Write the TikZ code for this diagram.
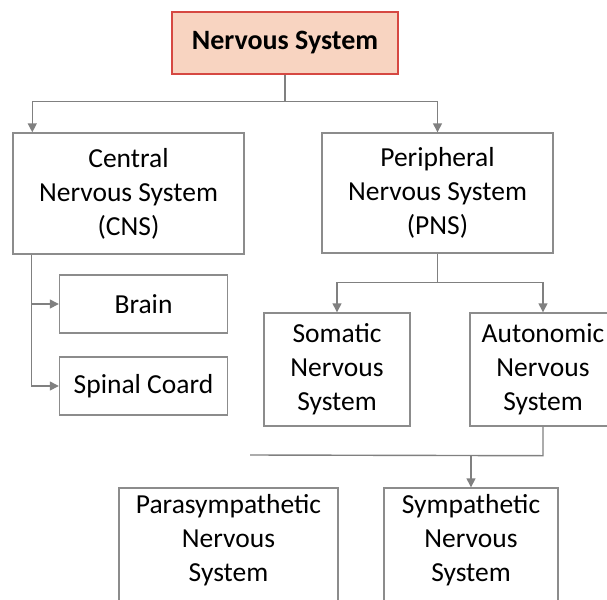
\documentclass[tikz,border=0pt]{standalone}
\usepackage{fontspec}
\setmainfont{Carlito}
\usetikzlibrary{arrows.meta,calc}
\definecolor{boxgray}{RGB}{140,140,140}
\definecolor{linegray}{RGB}{128,128,128}
\definecolor{salmon}{RGB}{248,212,193}
\definecolor{redborder}{RGB}{214,72,66}
\tikzset{
  txt/.style={font=\fontsize{27.5}{34}\selectfont, align=center},
  box/.style={draw=boxgray, line width=1.4pt, fill=white, inner sep=0pt, txt},
  titlebox/.style={draw=redborder, line width=1.4pt, fill=salmon, inner sep=0pt, align=center,
    font=\fontsize{28}{30}\selectfont\bfseries},
  conn/.style={draw=linegray, line width=1.4pt},
  arr/.style={conn, -{Triangle[length=9pt,width=9pt]}}
}
\begin{document}
\begin{tikzpicture}[x=1pt,y=-1pt]
\useasboundingbox (0,0) rectangle (607,599);
\clip (0,0) rectangle (607,599);
\fill[white] (0,0) rectangle (607,599);
% nodes
\node[titlebox, minimum width=226pt, minimum height=62pt] (ns) at (285,43) {Nervous System};
\node[box, minimum width=231pt, minimum height=121pt] (cns) at (128.5,193.5) {Central\\Nervous System\\(CNS)};
\node[box, minimum width=231pt, minimum height=120pt] (pns) at (437.5,193) {Peripheral\\Nervous System\\(PNS)};
\node[box, minimum width=168pt, minimum height=58pt] (brain) at (143.5,304) {Brain};
\node[box, minimum width=168pt, minimum height=58pt] (spinal) at (143.5,386) {Spinal Coard};
\node[box, minimum width=146pt, minimum height=113pt] (som) at (337,369.5) {Somatic\\Nervous\\System};
\node[box, minimum width=146pt, minimum height=113pt] (aut) at (543,369.5) {Autonomic\\Nervous\\System};
\node[box, minimum width=219pt, minimum height=120pt] (para) at (228.5,548) {};
\node[box, minimum width=174pt, minimum height=120pt] (symp) at (471,548) {};
\node[txt, anchor=north] (paratext) at (228.5,491) {Parasympathetic\\Nervous\\System};
\node[txt, anchor=north] (symptext) at (471,491) {Sympathetic\\Nervous\\System};
% connectors
\coordinate (j1) at ($(ns.south)+(0,27)$);
\draw[conn] (ns.south) -- (j1);
\draw[arr] (j1) -| ($(cns.north west)+(20,0)$);
\draw[arr] (j1) -| (pns.north);
\coordinate (t1) at ($(cns.south west)+(19,0)$);
\draw[arr] (t1) |- (brain.west);
\draw[arr] (t1) |- (spinal.west);
\coordinate (j2) at ($(pns.south)+(0,29)$);
\draw[conn] (pns.south) -- (j2);
\draw[arr] (j2) -| (som.north);
\draw[arr] (j2) -| (aut.north);
\coordinate (j3) at ($(aut.south)+(0,29)$);
\coordinate (e3) at (250,455);
\draw[conn] (aut.south) -- (j3) -- (e3);
\draw[arr] (symp.north |- j3) -- (symp.north);
\end{tikzpicture}
\end{document}
